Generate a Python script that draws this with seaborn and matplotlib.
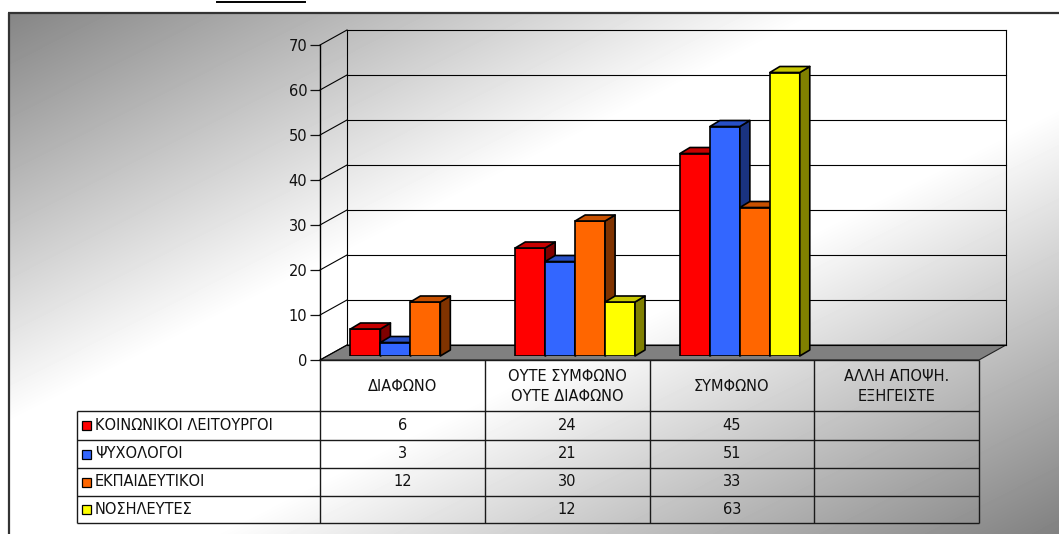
import numpy as np
import pandas as pd
import matplotlib
matplotlib.use("Agg")
import matplotlib.pyplot as plt
from matplotlib.patches import Polygon, Rectangle
from matplotlib.lines import Line2D
from matplotlib.transforms import IdentityTransform
import seaborn as sns

# ---- data -------------------------------------------------------------
categories = ["ΔΙΑΦΩΝΟ", "ΟΥΤΕ ΣΥΜΦΩΝΟ\nΟΥΤΕ ΔΙΑΦΩΝΟ", "ΣΥΜΦΩΝΟ",
              "ΑΛΛΗ ΑΠΟΨΗ.\nΕΞΗΓΕΙΣΤΕ"]
groups = ["ΚΟΙΝΩΝΙΚΟΙ ΛΕΙΤΟΥΡΓΟΙ", "ΨΥΧΟΛΟΓΟΙ", "ΕΚΠΑΙΔΕΥΤΙΚΟΙ", "ΝΟΣΗΛΕΥΤΕΣ"]
social_workers = [6, 24, 45, None]
psychologists = [3, 21, 51, None]
teachers = [12, 30, 33, None]
nurses = [None, 12, 63, None]
series_values = [social_workers, psychologists, teachers, nurses]
colors = ["#FF0000", "#3366FF", "#FF6600", "#FFFF00"]
y_ticks = [0, 10, 20, 30, 40, 50, 60, 70]

rows = [(cat, grp, v)
        for grp, vals in zip(groups, series_values)
        for cat, v in zip(categories, vals) if v is not None]
df = pd.DataFrame(rows, columns=["category", "group", "value"])

plt.rcParams["font.family"] = ["DejaVu Sans"]

W, H = 1059, 534
fig = plt.figure(figsize=(W / 100, H / 100), dpi=100)
fig.patch.set_facecolor("white")

# ---- background: diagonal grey-white-grey fill inside the frame -------
bg = fig.add_axes([0, 0, 1, 1])
yy, xx = np.mgrid[13:H, 9:W].astype(float)
t = xx / W + yy / H
rise = np.clip((0.8 - t) / 0.8, 0, 1)
fall = np.clip((t - 1.2) / 0.8, 0, 1)
shade = 255 - 127 * np.maximum(rise, fall)
bg.imshow(shade, cmap="gray", vmin=0, vmax=255, extent=[9, W, H, 13],
          interpolation="bilinear", aspect="auto")
bg.set_xlim(0, W)
bg.set_ylim(H, 0)
bg.axis("off")
bg.plot([8, W], [13, 13], color="#333333", lw=1.6, solid_capstyle="butt")
bg.plot([9, 9], [13, H], color="#333333", lw=1.6, solid_capstyle="butt")
bg.plot([217, 305], [1.5, 1.5], color="black", lw=1.4)

# ---- front plane with the value axis ----------------------------------
ax = fig.add_axes([320 / W, (H - 360) / H, 659 / W, 315 / H])
ax.set_xlim(-0.5, len(categories) - 0.5)
ax.set_ylim(0, 70)
ax.patch.set_alpha(0)
for side in ["top", "right", "bottom"]:
    ax.spines[side].set_visible(False)
ax.spines["left"].set_color("black")
ax.spines["left"].set_linewidth(1.0)
ax.set_xticks([])
ax.set_yticks(y_ticks)
ax.tick_params(axis="y", length=7.2, width=0.9, pad=2, labelsize=10.5,
               colors="#111111")

D = np.array([27.0, 15.0])  # depth of the walls in pixels
T = ax.transData.transform
x_lo, x_hi = -0.5, len(categories) - 0.5
ident = IdentityTransform()

floor = Polygon([T((x_lo, 0)), T((x_hi, 0)), T((x_hi, 0)) + D, T((x_lo, 0)) + D],
                closed=True, transform=ident, facecolor="#808080",
                edgecolor="#222222", lw=0.8, clip_on=False, zorder=1)
ax.add_artist(floor)

def wall_line(p, q, **kw):
    ln = Line2D([p[0], q[0]], [p[1], q[1]], transform=ident, clip_on=False,
                color="black", lw=0.8, zorder=1.5, **kw)
    ax.add_artist(ln)

for v in y_ticks:
    f = T((x_lo, v))
    wall_line(f, f + D)
    wall_line(f + D, T((x_hi, v)) + D)
wall_line(T((x_lo, 0)) + D, T((x_lo, 70)) + D)
wall_line(T((x_hi, 0)) + D, T((x_hi, 70)) + D)

# ---- bars, set slightly into the depth of the floor -------------------
ax_bars = fig.add_axes([328 / W, (H - 356) / H, 659 / W, 315 / H])
sns.barplot(data=df, x="category", y="value", hue="group",
            order=categories, hue_order=groups, palette=colors,
            saturation=1, width=4 * 30 / 165, errorbar=None,
            edgecolor="black", linewidth=1.2, legend=False, ax=ax_bars)
ax_bars.set_xlim(x_lo, x_hi)
ax_bars.set_ylim(0, 70)
ax_bars.set_axis_off()
ax_bars.patch.set_alpha(0)

Tb = ax_bars.transData.transform
d_bar = np.array([10.0, 6.0])
for i, cont in enumerate(ax_bars.containers):
    base = np.array(matplotlib.colors.to_rgb(colors[i]))
    for bar in cont:
        h = bar.get_height()
        if not np.isfinite(h) or h <= 0:
            continue
        x0, w = bar.get_x(), bar.get_width()
        br, tr, tl = Tb((x0 + w, 0)), Tb((x0 + w, h)), Tb((x0, h))
        bar.set_zorder(2 + 2 * i)
        side = Polygon([br, br + d_bar, tr + d_bar, tr], closed=True,
                       transform=ident, facecolor=base * 0.5,
                       edgecolor="black", lw=1.2, clip_on=False,
                       zorder=3 + 2 * i, joinstyle="round")
        top = Polygon([tl, tr, tr + d_bar, tl + d_bar], closed=True,
                      transform=ident, facecolor=base * 0.78,
                      edgecolor="black", lw=1.2, clip_on=False,
                      zorder=3 + 2 * i, joinstyle="round")
        ax_bars.add_artist(side)
        ax_bars.add_artist(top)

# ---- data table underneath --------------------------------------------
tab = fig.add_axes([0, 0, 1, 1])
tab.set_xlim(0, W)
tab.set_ylim(H, 0)
tab.axis("off")
tab.patch.set_alpha(0)

col_edges = [T((e, 0))[0] for e in np.arange(len(categories) + 1) - 0.5]
table_top = H - T((0, 0))[1]
header_bottom = 411
row_edges = [header_bottom, 440, 468, 496, 523]
legend_left = 77
line_kw = dict(color="#1a1a1a", lw=1.0, solid_capstyle="butt")

tab.plot([col_edges[0], col_edges[-1]], [table_top, table_top], **line_kw)
for y in row_edges:
    tab.plot([legend_left, col_edges[-1]], [y, y], **line_kw)
tab.plot([legend_left, legend_left], [row_edges[0], row_edges[-1]], **line_kw)
for x in col_edges:
    tab.plot([x, x], [table_top, row_edges[-1]], **line_kw)

header_mid = (table_top + header_bottom) / 2 + 1
for c, cat in enumerate(categories):
    cx = (col_edges[c] + col_edges[c + 1]) / 2
    tab.text(cx, header_mid, cat, ha="center", va="center", fontsize=10.5,
             linespacing=1.45, color="#111111")

for r, (grp, vals) in enumerate(zip(groups, series_values)):
    yc = (row_edges[r] + row_edges[r + 1]) / 2
    tab.add_patch(Rectangle((82, yc - 4.5), 9, 9, facecolor=colors[r],
                            edgecolor="black", lw=0.9))
    tab.text(95, yc, grp, ha="left", va="center", fontsize=10.5,
             color="#111111")
    for c, v in enumerate(vals):
        if v is None:
            continue
        cx = (col_edges[c] + col_edges[c + 1]) / 2
        tab.text(cx, yc, str(v), ha="center", va="center", fontsize=10.5,
                 color="#111111")

fig.savefig("out.png", dpi=100)
